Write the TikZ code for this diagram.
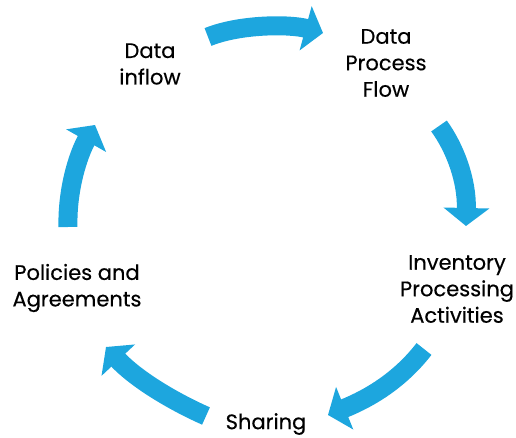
\documentclass[tikz,border=0pt]{standalone}
\usepackage{fontspec}
\setmainfont{Poppins}[FakeBold=0.4]
\usetikzlibrary{arrows.meta}
\definecolor{cycleblue}{RGB}{29,166,222}
\tikzset{
  lbl/.style={align=center, inner sep=0pt, text=black, font=\fontsize{21}{26.5}\selectfont},
  band/.style={draw=cycleblue, line width=19pt, line cap=butt,
    -{Triangle[width=45pt,length=18pt]}}
}
\begin{document}
\begin{tikzpicture}[x=1pt,y=-1pt]
\useasboundingbox (0,0) rectangle (516,438);
% labels
\node[lbl] (din)  at (150,64)  {Data\\inflow};
\node[lbl] (dpf)  at (386,63)  {Data\\Process\\Flow};
\node[lbl] (inv)  at (457,289) {Inventory\\Processing\\Activities};
\node[lbl] (shar) at (266,424) {Sharing};
\node[lbl] (pol)  at (77,288)  {Policies and\\Agreements};
% arrow end points
\coordinate (a1s) at (208,37);  \coordinate (a1e) at (323,33);
\coordinate (a2s) at (439,126); \coordinate (a2e) at (466,226);
\coordinate (a3s) at (424,349); \coordinate (a3e) at (328,415);
\coordinate (a4s) at (206,416); \coordinate (a4e) at (106,347);
\coordinate (a5s) at (68,227);  \coordinate (a5e) at (95,125);
% arrows
\draw[band] (a1s) .. controls (240,24) and (290,24) .. (a1e);
\draw[band] (a2s) .. controls (455,148) and (467,180) .. (a2e);
\draw[band] (a3s) .. controls (400,380) and (370,398) .. (a3e);
\draw[band] (a4s) .. controls (170,400) and (135,378) .. (a4e);
\draw[band] (a5s) .. controls (67,190) and (78,155) .. (a5e);
\end{tikzpicture}
\end{document}
